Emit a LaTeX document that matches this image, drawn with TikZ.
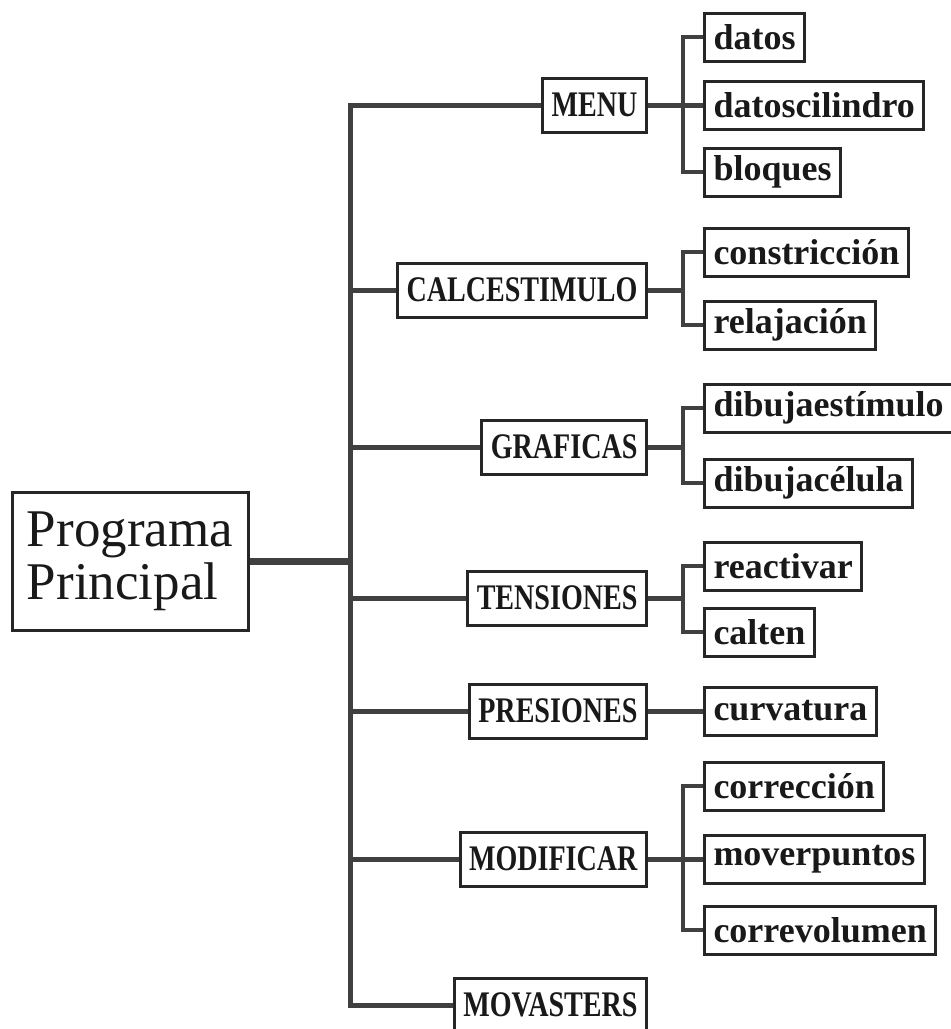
\documentclass[tikz,border=0pt]{standalone}
\usepackage{fontspec}
\setmainfont{Liberation Serif}
\newfontfamily\capsfont[FakeStretch=0.78]{Liberation Serif}
\usetikzlibrary{positioning}

\begin{document}
\begin{tikzpicture}[x=1pt,y=-1pt,
	every node/.style={draw=black!85,line width=3pt,fill=white,text=black!90},
	mainbox/.style={font=\fontsize{53}{53}\selectfont,align=left,minimum width=236pt,minimum height=138pt,inner xsep=12pt},
	modbox/.style={font=\capsfont\bfseries\fontsize{36}{36}\selectfont,minimum height=54pt,inner xsep=9pt,anchor=east},
	subbox/.style={font=\bfseries\fontsize{36}{36}\selectfont,minimum height=48pt,inner xsep=9pt,anchor=west},
	link/.style={draw=black!75,line width=5pt},
	sublink/.style={draw=black!75,line width=4pt}]

\useasboundingbox (0,0) rectangle (951,1029);

\coordinate (trunk) at (350,0);
\coordinate (bus) at (683,0);

% programa principal
\node[mainbox] (prog) at (130,561) {Programa\\Principal};

% modulos
\node[modbox] (menu) at (648,105) {MENU};
\node[modbox] (calc) at (648,290) {CALCESTIMULO};
\node[modbox] (graficas) at (648,447) {GRAFICAS};
\node[modbox] (tensiones) at (648,598) {TENSIONES};
\node[modbox] (presiones) at (648,711) {PRESIONES};
\node[modbox] (modificar) at (648,859) {MODIFICAR};
\node[modbox] (movasters) at (648,1005) {MOVASTERS};

% subrutinas
\node[subbox] (datos) at (703,37) {datos};
\node[subbox] (datoscil) at (703,105) {datoscilindro};
\node[subbox] (bloques) at (703,172) {bloques};
\node[subbox] (constr) at (703,252) {constricción};
\node[subbox] (relaj) at (703,325) {relajación};
\node[subbox] (dibest) at (703,408) {dibujaestímulo};
\node[subbox] (dibcel) at (703,483) {dibujacélula};
\node[subbox] (reactivar) at (703,566) {reactivar};
\node[subbox] (calten) at (703,632) {calten};
\node[subbox] (curvatura) at (703,711) {curvatura};
\node[subbox] (correccion) at (703,786) {corrección};
\node[subbox] (moverp) at (703,859) {moverpuntos};
\node[subbox] (correvol) at (703,930) {correvolumen};

% tronco
\draw[link,line width=7pt] (prog.east) -- (prog.east -| trunk);
\draw[link] (menu.west) -- (menu.west -| trunk) |- (movasters.west);
\foreach \m in {calc,graficas,tensiones,presiones,modificar}
	\draw[link] (\m.west -| trunk) -- (\m.west);

% ramas
\draw[link] (menu.east) -- (datoscil.west);
\draw[sublink] (datos.west) -- (datos.west -| bus) |- (bloques.west);
\draw[link] (calc.east) -- (calc.east -| bus);
\draw[sublink] (constr.west) -- (constr.west -| bus) |- (relaj.west);
\draw[link] (graficas.east) -- (graficas.east -| bus);
\draw[sublink] (dibest.west) -- (dibest.west -| bus) |- (dibcel.west);
\draw[link] (tensiones.east) -- (tensiones.east -| bus);
\draw[sublink] (reactivar.west) -- (reactivar.west -| bus) |- (calten.west);
\draw[link] (presiones.east) -- (curvatura.west);
\draw[link] (modificar.east) -- (moverp.west);
\draw[sublink] (correccion.west) -- (correccion.west -| bus) |- (correvol.west);
\end{tikzpicture}
\end{document}
